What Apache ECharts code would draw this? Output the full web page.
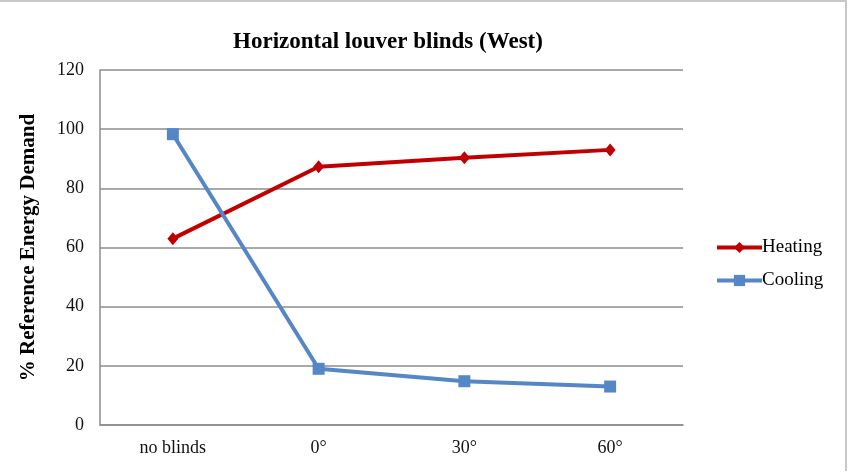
<!DOCTYPE html>
<html>
<head>
<meta charset="utf-8">
<script src="https://cdn.jsdelivr.net/npm/echarts@6/dist/echarts.min.js"></script>
<style>
  html, body { margin: 0; padding: 0; background: #fff; }
  #frame { position: absolute; left: 0; top: 0; width: 845px; height: 469px; border: 2px solid #c8c8c8; border-left: none; border-bottom: none; }
  #chart { width: 849px; height: 473px; }
</style>
</head>
<body>
<div id="frame"></div>
<div id="chart"></div>
<script>
const categories = ['no blinds', '0°', '30°', '60°'];
const heating = [63, 87.3, 90.3, 93];
const cooling = [98.3, 19, 14.8, 13];
const yTicks = [0, 20, 40, 60, 80, 100, 120];

const serif = '"Liberation Serif", "DejaVu Serif", serif';
const chart = echarts.init(document.getElementById('chart'));

const option = {
    animation: false,
    title: {
        text: 'Horizontal louver blinds (West)',
        left: 383,
        top: 26,
        textAlign: 'center',
        textStyle: {fontFamily: serif, fontWeight: 'bold', fontSize: 23, color: '#000'}
    },
    legend: {
        orient: 'vertical',
        left: 710,
        top: 233,
        itemWidth: 45,
        itemHeight: 14,
        itemGap: 14,
        lineStyle: {width: 4},
        textStyle: {fontFamily: serif, fontSize: 19, color: '#000', padding: [0, 0, 0, -5]},
        data: ['Heating', 'Cooling']
    },
    grid: {left: 100, right: 166, top: 70, bottom: 48},
    xAxis: {
        type: 'category',
        data: categories,
        boundaryGap: true,
        axisLine: {lineStyle: {color: '#8c8c8c', width: 1.5}},
        axisTick: {show: false},
        axisLabel: {fontFamily: serif, fontSize: 18, color: '#111', margin: 14}
    },
    yAxis: {
        type: 'value',
        min: 0,
        max: 120,
        interval: 20,
        name: '% Reference Energy Demand',
        nameLocation: 'middle',
        nameGap: 61,
        nameTextStyle: {fontFamily: serif, fontWeight: 'bold', fontSize: 21, color: '#000'},
        axisLine: {show: true, lineStyle: {color: '#8c8c8c', width: 1.5}},
        axisTick: {show: false},
        axisLabel: {
            fontFamily: serif, fontSize: 18, color: '#111', margin: 16,
            formatter: v => yTicks.includes(v) ? String(v) : ''
        },
        splitLine: {lineStyle: {color: '#8c8c8c', width: 1.5}}
    },
    series: [
        {
            name: 'Heating',
            type: 'line',
            data: heating,
            symbol: 'diamond',
            symbolSize: [11, 13],
            lineStyle: {color: '#c00000', width: 4},
            itemStyle: {color: '#c00000'}
        },
        {
            name: 'Cooling',
            type: 'line',
            data: cooling,
            symbol: 'rect',
            symbolSize: 12,
            lineStyle: {color: '#5586c6', width: 4},
            itemStyle: {color: '#5586c6'}
        }
    ]
};
chart.setOption(option);
</script>
</body>
</html>
